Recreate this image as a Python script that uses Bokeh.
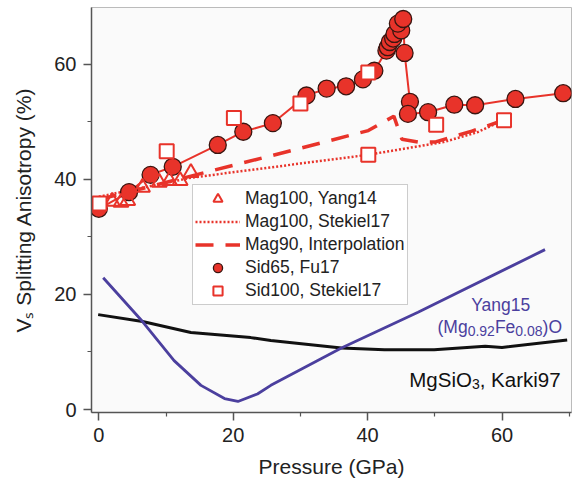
import math
from bokeh.plotting import figure
from bokeh.models import Legend, LegendItem, Label, Range1d, FixedTicker
from bokeh.embed import file_html
from bokeh.resources import INLINE

# ---------------- data ----------------
# Sid65, Fu17 (filled circles, solid line)
sid65_p = [0.0, 4.5, 7.7, 11.0, 17.7, 21.5, 25.9, 30.9, 33.9, 36.8, 39.3, 41.0, 42.8, 43.0,
           43.3, 43.8, 44.0, 45.0, 44.5, 45.3, 45.5, 46.3, 46.0, 49.0, 52.9, 56.0, 62.0, 69.1]
sid65_v = [34.9, 37.8, 40.8, 42.2, 46.0, 48.3, 49.8, 54.6, 55.8, 56.2, 57.4, 58.9, 62.4, 63.0,
           63.9, 64.5, 65.3, 65.9, 67.1, 67.9, 62.0, 53.5, 51.4, 51.7, 53.0, 52.9, 54.0, 55.0]

# Sid100, Stekiel17 (open squares)
sid100_p = [0.1, 10.1, 20.1, 30.0, 40.1, 40.1, 50.2, 60.3]
sid100_v = [35.8, 44.9, 50.7, 53.2, 58.6, 44.3, 49.5, 50.3]

# Mag100, Yang14 (open triangles)
mag100y_p = [2.0, 3.3, 4.3, 6.5, 9.0, 10.5, 12.1, 13.7]
mag100y_v = [36.2, 36.0, 36.3, 38.6, 39.5, 39.8, 39.8, 41.2]

# Mag100, Stekiel17 (dotted line)
mag100s_p = [0.0, 13.7, 40.1, 51.3, 56.3, 60.2]
mag100s_v = [37.0, 40.3, 44.3, 46.5, 48.2, 50.3]

# Mag90, Interpolation (dashed line)
mag90_p = [0.0, 17.1, 28.6, 40.1, 43.9, 45.1, 47.5, 50.0, 53.2, 55.5, 60.2]
mag90_v = [36.5, 41.6, 45.0, 48.5, 51.0, 47.0, 46.5, 46.5, 47.6, 48.4, 50.3]

# Yang15 (Mg0.92Fe0.08)O (blue line)
yang15_p = [0.65, 6.5, 11.2, 15.2, 18.7, 20.7, 23.6, 25.6, 36.1, 47.5, 66.4]
yang15_v = [22.9, 15.3, 8.5, 4.2, 1.9, 1.4, 2.7, 4.2, 10.7, 16.9, 27.8]

# MgSiO3, Karki97 (black line)
karki_p = [-0.1, 6.5, 13.7, 22.6, 25.6, 36.1, 42.5, 49.9, 57.5, 60.0, 69.7]
karki_v = [16.5, 15.3, 13.4, 12.5, 12.0, 10.7, 10.4, 10.4, 11.0, 10.8, 12.1]

x_major = [0, 20, 40, 60]
x_minor = [10, 30, 50, 70]
y_major = [0, 20, 40, 60]
y_minor = [10, 30, 50]

legend_labels = ["Mag100, Yang14", "Mag100, Stekiel17", "Mag90, Interpolation",
                 "Sid65, Fu17", "Sid100, Stekiel17"]

# ---------------- style ----------------
RED = "#e8332a"
BLUE = "#4b3f9e"
FONT = "Liberation Sans"
AXC = "#555555"

p = figure(width=573, height=482, output_backend="svg", toolbar_location=None,
           x_range=Range1d(-1.09, 70.34), y_range=Range1d(-0.52, 69.9),
           min_border_left=91, min_border_right=2, min_border_top=7, min_border_bottom=70)
p.background_fill_color = "#fafafa"
p.border_fill_color = "white"
p.outline_line_color = "#bbbbbb"
p.grid.visible = False

p.xaxis.ticker = FixedTicker(ticks=x_major, minor_ticks=x_minor)
p.yaxis.ticker = FixedTicker(ticks=y_major, minor_ticks=y_minor)
for ax in (p.xaxis, p.yaxis):
    ax.axis_line_color = AXC
    ax.axis_line_width = 1.5
    ax.major_tick_line_color = AXC
    ax.minor_tick_line_color = AXC
    ax.major_tick_line_width = 1.5
    ax.minor_tick_line_width = 1.2
    ax.major_tick_out = 8
    ax.major_tick_in = 0
    ax.minor_tick_out = 4
    ax.minor_tick_in = 0
    ax.major_label_text_font = FONT
    ax.major_label_text_font_size = "20px"
    ax.major_label_text_color = "#222222"
    ax.major_label_standoff = 7
    ax.axis_label_text_font = FONT
    ax.axis_label_text_font_size = "21px"
    ax.axis_label_text_font_style = "normal"
    ax.axis_label_text_color = "#222222"
p.xaxis.axis_label = "Pressure (GPa)"
p.xaxis.axis_label_standoff = 10
p.yaxis.axis_label = "V\u209b Splitting Anisotropy (%)"
p.yaxis.axis_label_standoff = 16

# ---------------- glyphs ----------------
p.line(karki_p, karki_v, line_color="#111111", line_width=3)
p.line(yang15_p, yang15_v, line_color=BLUE, line_width=2.8)
r_dot = p.line(mag100s_p, mag100s_v, line_color=RED, line_width=2.5, line_dash="2 2")
r_dash = p.line(mag90_p, mag90_v, line_color=RED, line_width=3.5, line_dash="18 12")
p.line(sid65_p, sid65_v, line_color=RED, line_width=2)
r_circ = p.scatter(sid65_p, sid65_v, marker="circle", size=17, fill_color=RED,
                   line_color="#3a1510", line_width=1.3)
r_tri = p.scatter(mag100y_p, mag100y_v, marker="triangle", size=15, fill_alpha=0,
                  line_color=RED, line_width=2)
r_sq = p.scatter(sid100_p, sid100_v, marker="square", size=14, fill_color="white",
                 line_color=RED, line_width=2)

legend = Legend(items=[
    LegendItem(label=legend_labels[0], renderers=[r_tri]),
    LegendItem(label=legend_labels[1], renderers=[r_dot]),
    LegendItem(label=legend_labels[2], renderers=[r_dash]),
    LegendItem(label=legend_labels[3], renderers=[r_circ]),
    LegendItem(label=legend_labels[4], renderers=[r_sq]),
], location=(101, 107))
legend.label_text_font = FONT
legend.label_text_font_size = "17.5px"
legend.label_text_color = "#222222"
legend.glyph_width = 45
legend.glyph_height = 23
legend.label_height = 20
legend.label_standoff = 5
legend.spacing = 0
legend.padding = 2
legend.margin = 0
legend.border_line_color = "#999999"
legend.border_line_width = 1
legend.background_fill_color = "white"
legend.background_fill_alpha = 1
p.add_layout(legend)

# ---------------- text with subscripts ----------------
W = {"0": 556, "1": 556, "2": 556, "3": 556, "4": 556, "5": 556, "6": 556, "7": 556,
     "8": 556, "9": 556, ".": 278, ",": 278, " ": 278, "(": 333, ")": 333, "%": 889,
     "M": 833, "g": 556, "F": 611, "e": 556, "O": 778, "S": 667, "i": 222, "K": 667,
     "a": 556, "r": 333, "k": 500, "V": 667, "s": 500, "Y": 667, "n": 556}


def tw(txt, size):
    return sum(W.get(c, 556) for c in txt) / 1000.0 * size


def text_run(x, y, pieces, color):
    off = 0.0
    for txt, size, shift in pieces:
        lab = Label(x=x, y=y, x_offset=off, y_offset=-shift, text=txt, text_font=FONT,
                    text_font_size=f"{size}px", text_color=color,
                    text_baseline="alphabetic", text_align="left")
        p.add_layout(lab)
        off += tw(txt, size)


p.add_layout(Label(x=59.8, y=18.1, text="Yang15", text_font=FONT, text_font_size="17.5px",
                   text_color=BLUE, text_align="center", text_baseline="alphabetic"))
text_run(50.4, 14.4, [("(Mg", 17.5, 0), ("0.92", 14, 4), ("Fe", 17.5, 0),
                      ("0.08", 14, 4), (")O", 17.5, 0)], BLUE)
text_run(46.2, 5.3, [("MgSiO", 20.5, 0), ("3", 14, 5), (", Karki97", 20.5, 0)], "#111111")

open("out.html", "w").write(file_html(p, INLINE))
